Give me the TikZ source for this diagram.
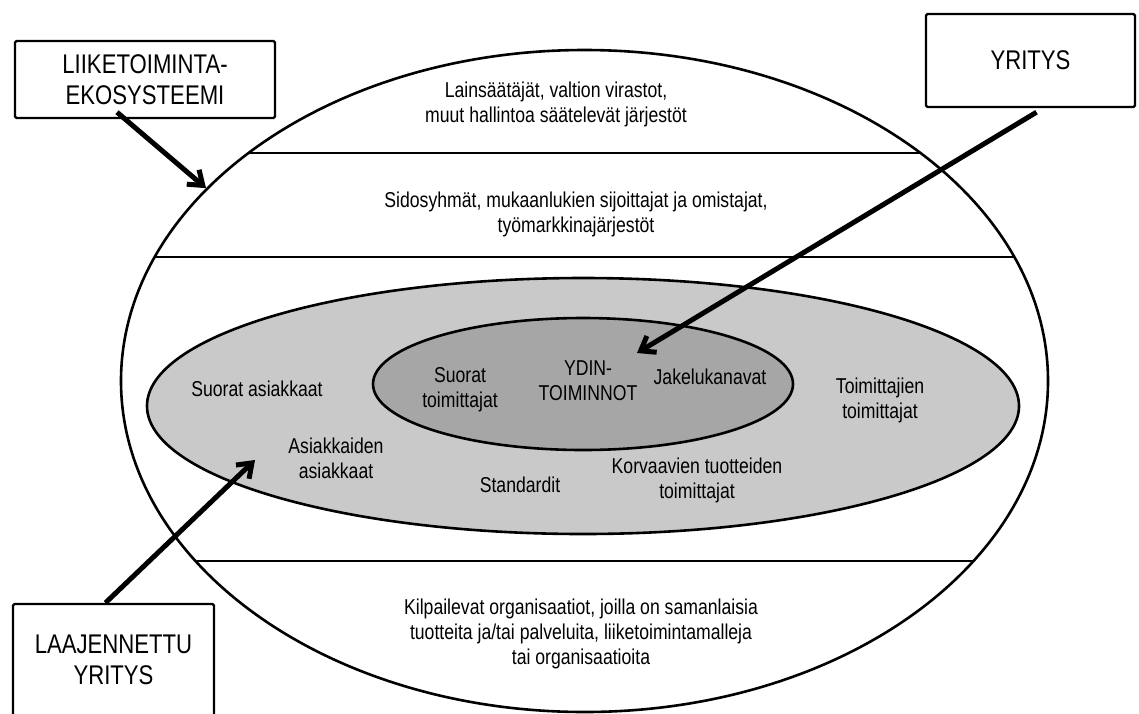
\documentclass[tikz,border=0pt]{standalone}
\usepackage{fontspec}
\setmainfont[FakeStretch=0.82]{Liberation Sans}
\usetikzlibrary{shapes.geometric, arrows.meta}
\definecolor{outergrey}{gray}{0.79}
\definecolor{innergrey}{gray}{0.65}

\begin{document}
\begin{tikzpicture}[x=1pt, y=-1pt,
    lbl/.style={align=center, inner sep=0pt, font=\fontsize{21.5}{25}\selectfont},
    tagbox/.style={draw, line width=2.4pt, rounded corners=1.5pt, align=center, inner sep=0pt, font=\fontsize{27}{31}\selectfont},
    pointer/.style={line width=5pt, -{Straight Barb[length=13pt, width=19pt]}}]
  \useasboundingbox (0,0) rectangle (1139,713);

  % ecosystem and its bands
  \node[draw, ellipse, line width=2.6pt, minimum width=927pt, minimum height=662pt, inner sep=0pt] (eco) at (584.5,381) {};
  \begin{scope}
    \clip (584.5,381) ellipse [x radius=463.5, y radius=331];
    \foreach \y in {153, 257, 561}
      \draw[line width=1.7pt] (100,\y) -- (1060,\y);
  \end{scope}

  % extended enterprise and core
  \node[draw, ellipse, fill=outergrey, line width=2.6pt, minimum width=872pt, minimum height=256pt, inner sep=0pt] (net) at (583,406) {};
  \node[draw, ellipse, fill=innergrey, line width=2.6pt, minimum width=420pt, minimum height=132pt, inner sep=0pt] (core) at (583,384) {};

  % band texts
  \node[lbl] (laws) at (556,104) {Lainsäätäjät, valtion virastot,\\muut hallintoa säätelevät järjestöt};
  \node[lbl] (stake) at (576,214) {Sidosyhmät, mukaanlukien sijoittajat ja omistajat,\\työmarkkinajärjestöt};
  \node[lbl] (rivals) at (581,634) {Kilpailevat organisaatiot, joilla on samanlaisia\\tuotteita ja/tai palveluita, liiketoimintamalleja\\tai organisaatioita};

  % ellipse texts
  \node[lbl] (dcust) at (257,389) {Suorat asiakkaat};
  \node[lbl] (ccust) at (336,458) {Asiakkaiden\\asiakkaat};
  \node[lbl] (dsupp) at (460,390) {Suorat\\toimittajat};
  \node[lbl] (ydin) at (588,381) {YDIN-\\TOIMINNOT};
  \node[lbl] (chan) at (710,377) {Jakelukanavat};
  \node[lbl] (ssupp) at (880,400) {Toimittajien\\toimittajat};
  \node[lbl] (subst) at (697,480) {Korvaavien tuotteiden\\toimittajat};
  \node[lbl] (std) at (520,485) {Standardit};

  % boxes
  \node[tagbox, minimum width=260pt, minimum height=77pt] (ecobox) at (145,79.5) {LIIKETOIMINTA-\\EKOSYSTEEMI};
  \node[tagbox, minimum width=209pt, minimum height=93pt] (firmbox) at (1030.5,60.5) {YRITYS};
  \node[tagbox, minimum width=201pt, minimum height=112pt] (extbox) at (113.5,660) {LAAJENNETTU\\YRITYS};

  % arrows
  \coordinate (coretip) at (637,353);
  \coordinate (nettip) at (255,460);
  \draw[pointer] ([xshift=-28pt, yshift=7pt]ecobox.south) -- (eco.153);
  \draw[pointer] ([xshift=6pt, yshift=-4pt]firmbox.south) -- (coretip);
  \draw[pointer] ([xshift=-8pt]extbox.north) -- (nettip);
\end{tikzpicture}
\end{document}
